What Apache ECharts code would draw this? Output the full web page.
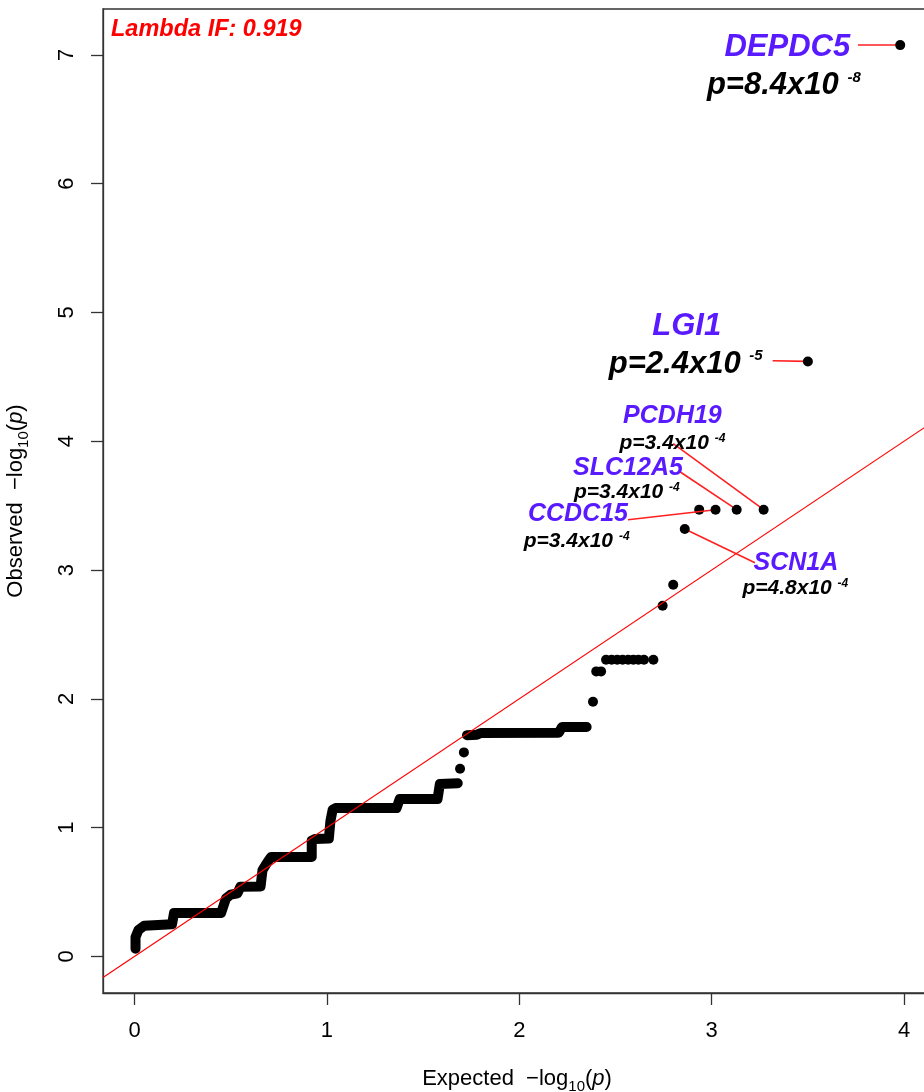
<!DOCTYPE html>
<html>
<head>
<meta charset="utf-8">
<script src="https://cdn.jsdelivr.net/npm/echarts@6/dist/echarts.min.js"></script>
<style>
html, body { margin: 0; padding: 0; background: #fff; }
#chart { width: 924px; height: 1092px; }
</style>
</head>
<body>
<div id="chart"></div>
<script>
// Gene-based QQ plot: observed vs expected -log10(p)

const xTicks = [0, 1, 2, 3, 4];
const yTicks = [0, 1, 2, 3, 4, 5, 6, 7];
const lambdaIF = 0.919;

// Dense bulk of genes, traced as staircases of [expected, observed]
const bulkLower = [
  [0.005, 0.06], [0.005, 0.15], [0.02, 0.205], [0.05, 0.238], [0.195, 0.25],
  [0.205, 0.337], [0.45, 0.337], [0.475, 0.45], [0.50, 0.48], [0.535, 0.49],
  [0.55, 0.54], [0.655, 0.543], [0.665, 0.67], [0.69, 0.73], [0.71, 0.772],
  [0.921, 0.772], [0.921, 0.90], [0.94, 0.912], [1.010, 0.915], [1.018, 1.05],
  [1.03, 1.14], [1.045, 1.152], [1.362, 1.152], [1.378, 1.222], [1.575, 1.222],
  [1.587, 1.338], [1.68, 1.345]
];
const bulkUpper = [
  [1.728, 1.718], [1.78, 1.722], [1.80, 1.735], [2.205, 1.737], [2.222, 1.781],
  [2.35, 1.781]
];

// Genes that stand apart from the bulk but carry no label
const singleGenes = [
  [1.692, 1.457], [1.712, 1.584], [2.383, 1.978], [2.400, 2.213], [2.425, 2.213],
  [2.451, 2.304], [2.480, 2.304], [2.509, 2.304], [2.537, 2.304], [2.566, 2.304],
  [2.593, 2.304], [2.619, 2.304], [2.648, 2.304], [2.697, 2.304],
  [2.745, 2.723], [2.800, 2.886], [2.935, 3.469]
];

// Labelled genes
const hitGenes = ['DEPDC5', 'LGI1', 'PCDH19', 'SLC12A5', 'CCDC15', 'SCN1A'];
const hitExpected = [3.98, 3.50, 3.27, 3.13, 3.02, 2.86];
const hitP = [8.4e-8, 2.4e-5, 3.4e-4, 3.4e-4, 3.4e-4, 4.8e-4];

// ---- layout & styling ----
const FONT = "'Liberation Sans', Arial, Helvetica, sans-serif";
const X_MIN = -0.164, X_MAX = 4.14;
const Y_MIN = -0.284, Y_MAX = 7.356;
const PURPLE = '#5a1aff';
const AXIS_COLOR = '#333';

// label anchors (data units) for each gene: name centre, p-value centre, leader start
const labelLayout = {
  DEPDC5:  { size: 'big',   name: [3.393, 7.055], p: [3.375, 6.760], leader: [3.760, 7.076] },
  LGI1:    { size: 'big',   name: [2.870, 4.895], p: [2.865, 4.600], leader: [3.317, 4.625] },
  PCDH19:  { size: 'small', name: [2.796, 4.195], p: [2.796, 3.983], leader: [2.800, 3.981] },
  SLC12A5: { size: 'small', name: [2.565, 3.795], p: [2.559, 3.605], leader: [2.835, 3.763] },
  CCDC15:  { size: 'small', name: [2.305, 3.433], p: [2.298, 3.225], leader: [2.565, 3.390] },
  SCN1A:   { size: 'small', name: [3.438, 3.053], p: [3.435, 2.860], leader: [3.225, 3.057] }
};

const richStyles = {
  bn: { fontFamily: FONT, fontSize: 31, fontWeight: 'bold', fontStyle: 'italic', color: PURPLE },
  sn: { fontFamily: FONT, fontSize: 25, fontWeight: 'bold', fontStyle: 'italic', color: PURPLE },
  bp: { fontFamily: FONT, fontSize: 31, fontWeight: 'bold', fontStyle: 'italic', color: '#000',
        lineHeight: 31, verticalAlign: 'top' },
  be: { fontFamily: FONT, fontSize: 15, fontWeight: 'bold', fontStyle: 'italic', color: '#000',
        lineHeight: 20, verticalAlign: 'top' },
  sp: { fontFamily: FONT, fontSize: 21, fontWeight: 'bold', fontStyle: 'italic', color: '#000',
        lineHeight: 21, verticalAlign: 'top' },
  se: { fontFamily: FONT, fontSize: 12, fontWeight: 'bold', fontStyle: 'italic', color: '#000',
        lineHeight: 15, verticalAlign: 'top' }
};

const neglog10 = p => -Math.log10(p);

function pLabel(p, size) {
  const parts = p.toExponential(1).split('e');
  const mant = parts[0];
  const expo = String(Number(parts[1]));
  const a = size === 'big' ? 'bp' : 'sp';
  const b = size === 'big' ? 'be' : 'se';
  return '{' + a + '|p=' + mant + 'x10 }{' + b + '|' + expo + '}';
}

const hitPoints = hitGenes.map((g, i) => [hitExpected[i], neglog10(hitP[i])]);

const annotationData = [];
const leaderData = [];
hitGenes.forEach((g, i) => {
  const lay = labelLayout[g];
  const nameTag = lay.size === 'big' ? 'bn' : 'sn';
  annotationData.push({
    value: lay.name,
    label: { formatter: '{' + nameTag + '|' + g + '}' }
  });
  annotationData.push({
    value: lay.p,
    label: { formatter: pLabel(hitP[i], lay.size) }
  });
  leaderData.push({ coords: [lay.leader, hitPoints[i]] });
});

// axis titles: "-log" with a lowered "10" and an italic p
const axisTitleRich = {
  t: { fontFamily: FONT, fontSize: 22, color: '#000', lineHeight: 26 },
  s: { fontFamily: FONT, fontSize: 15, color: '#000', lineHeight: 15, padding: [16, 0, 0, 0] },
  i: { fontFamily: FONT, fontSize: 22, color: '#000', fontStyle: 'italic', lineHeight: 26 }
};

const chart = echarts.init(document.getElementById('chart'), null, { renderer: 'canvas' });

chart.setOption({
  animation: false,
  backgroundColor: '#fff',
  title: {
    text: 'Lambda IF: ' + lambdaIF.toFixed(3),
    left: 111,
    top: 18,
    padding: 0,
    textStyle: { fontFamily: FONT, fontSize: 23.5, fontWeight: 'bold', fontStyle: 'italic', color: '#ff0000' }
  },
  grid: {
    left: 103, top: 9, width: 828, height: 984,
    containLabel: false,
    outerBoundsMode: 'none',
    show: true,
    borderColor: AXIS_COLOR,
    borderWidth: 1.3,
    backgroundColor: 'transparent'
  },
  xAxis: {
    type: 'value',
    position: 'bottom',
    min: X_MIN, max: X_MAX,
    splitLine: { show: false },
    axisLine: { show: true, onZero: false, lineStyle: { color: AXIS_COLOR, width: 1.3 } },
    axisTick: { show: true, inside: false, length: 12, customValues: xTicks,
                lineStyle: { color: AXIS_COLOR, width: 1.3 } },
    axisLabel: { show: true, customValues: xTicks, margin: 27, fontFamily: FONT, fontSize: 22,
                 lineHeight: 22, color: '#000' },
    name: '{t|Expected  \u2212log}{s|10}{t|(}{i|p}{t|)}',
    nameLocation: 'middle',
    nameGap: 73,
    nameTextStyle: { rich: axisTitleRich }
  },
  yAxis: {
    type: 'value',
    position: 'left',
    min: Y_MIN, max: Y_MAX,
    splitLine: { show: false },
    axisLine: { show: true, onZero: false, lineStyle: { color: AXIS_COLOR, width: 1.3 } },
    axisTick: { show: true, inside: false, length: 12, customValues: yTicks,
                lineStyle: { color: AXIS_COLOR, width: 1.3 } },
    axisLabel: { show: true, customValues: yTicks, rotate: 90, margin: 25, fontFamily: FONT,
                 fontSize: 22, lineHeight: 22, color: '#000' },
    name: '{t|Observed  \u2212log}{s|10}{t|(}{i|p}{t|)}',
    nameLocation: 'middle',
    nameRotate: 90,
    nameGap: 74,
    nameTextStyle: { rich: axisTitleRich }
  },
  series: [
    {
      type: 'line', data: bulkLower, symbol: 'none', silent: true, z: 2,
      lineStyle: { color: '#000', width: 10, cap: 'round', join: 'round' }
    },
    {
      type: 'line', data: bulkUpper, symbol: 'none', silent: true, z: 2,
      lineStyle: { color: '#000', width: 10, cap: 'round', join: 'round' }
    },
    {
      type: 'scatter', data: singleGenes, symbol: 'circle', symbolSize: 10, silent: true, z: 3,
      itemStyle: { color: '#000', opacity: 1 }
    },
    {
      type: 'scatter', data: hitPoints, symbol: 'circle', symbolSize: 10, silent: true, z: 6,
      itemStyle: { color: '#000', opacity: 1 }
    },
    {
      // y = x reference line
      type: 'line', data: [[X_MIN, X_MIN], [X_MAX, X_MAX]], symbol: 'none', silent: true, z: 4,
      clip: true,
      lineStyle: { color: '#ff0000', width: 1.2 }
    },
    {
      type: 'lines', coordinateSystem: 'cartesian2d', data: leaderData, silent: true, z: 5,
      lineStyle: { color: '#ff2020', width: 1.6, opacity: 1 }
    },
    {
      type: 'scatter', data: annotationData, symbolSize: 0, silent: true, z: 7,
      itemStyle: { color: 'rgba(0,0,0,0)', opacity: 1 },
      label: {
        show: true, position: 'inside', align: 'center', verticalAlign: 'middle', opacity: 1,
        rich: richStyles
      }
    }
  ]
});
</script>
</body>
</html>
